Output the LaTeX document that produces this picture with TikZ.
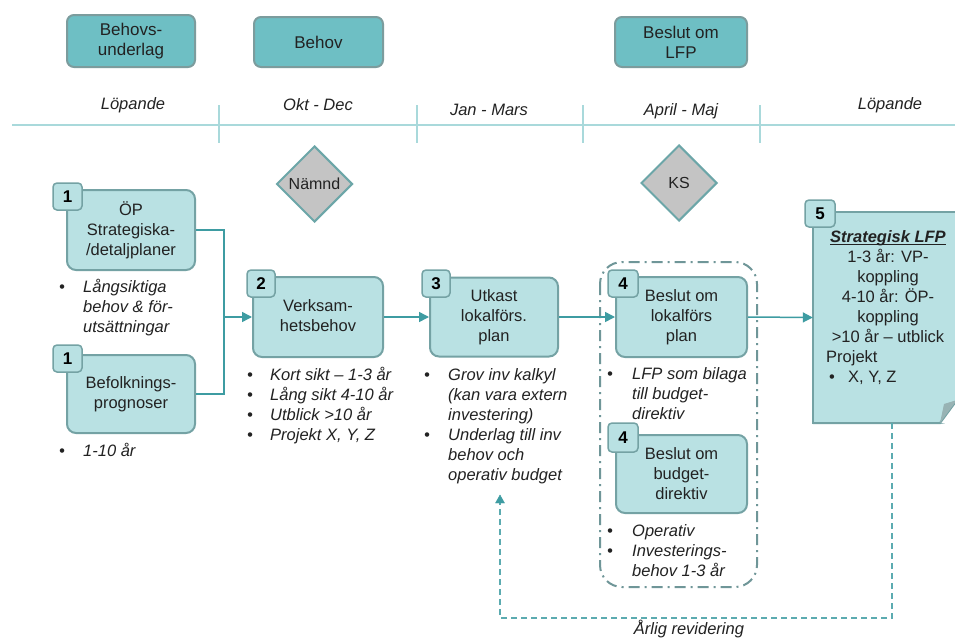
\documentclass[tikz,border=0pt]{standalone}
\usepackage{fontspec}
\setmainfont{Liberation Sans}
\usetikzlibrary{arrows.meta,shapes.geometric}
\definecolor{topfill}{HTML}{6EBFC4}
\definecolor{topdraw}{HTML}{7C9C9D}
\definecolor{boxfill}{HTML}{B9E1E3}
\definecolor{boxdraw}{HTML}{74A2A4}
\definecolor{timeln}{HTML}{A9D9DB}
\definecolor{conncol}{HTML}{3E9CA2}
\definecolor{grpdraw}{HTML}{6F9698}
\definecolor{diafill}{HTML}{C4C4C4}
\definecolor{diadraw}{HTML}{6CA6A8}
\definecolor{txt}{HTML}{222222}
\definecolor{foldcol}{HTML}{98B3B4}
\newcommand\fs{\fontsize{16.5}{20}\selectfont}
\newcommand\myul[1]{\setbox0\hbox{#1}\rlap{\rule[-2.2pt]{\wd0}{0.9pt}}\box0}
\tikzset{
  topbox/.style={draw=topdraw, fill=topfill, line width=2pt, rounded corners=7pt, align=center, inner sep=0pt, text=txt, font=\fontsize{17}{20}\selectfont},
  procbox/.style={draw=boxdraw, fill=boxfill, line width=2pt, rounded corners=9pt, align=center, inner sep=0pt, text=txt, font=\fs},
  badge/.style={draw=boxdraw, fill=boxfill, line width=1.5pt, rounded corners=4pt, minimum width=29pt, minimum height=27pt, inner sep=0pt, text=black, font=\fontsize{17}{20}\selectfont\bfseries},
  period/.style={text=txt, font=\fontsize{16.5}{20}\selectfont\itshape, inner sep=0pt},
  dia/.style={diamond, aspect=1, draw=diadraw, fill=diafill, line width=2pt, minimum size=76pt, inner sep=0pt, text=txt, font=\fontsize{16}{20}\selectfont},
  blist/.style={anchor=north west, inner sep=0pt, text=txt, font=\fs\itshape},
  conn/.style={draw=conncol, line width=1.5pt},
  arr/.style={conn, -{Triangle[length=10pt,width=10pt]}},
  fback/.style={draw=conncol!85!white, line width=1.6pt, dash pattern=on 6pt off 4pt},
  grp/.style={draw=grpdraw, line width=2pt, rounded corners=22pt, dash pattern=on 11pt off 5pt on 2pt off 5pt},
  tick/.style={draw=timeln, line width=1.6pt}
}
\begin{document}
\begin{tikzpicture}[x=1pt,y=-1pt]
\useasboundingbox (0,0) rectangle (955,637);
\clip (0,0) rectangle (955,637);
\fill[white] (0,0) rectangle (955,637);

% top boxes
\node[topbox, minimum width=128pt, minimum height=52pt] (tb1) at (131,41) {Behovs-\\underlag};
\node[topbox, minimum width=129pt, minimum height=50pt] (tb2) at (318.5,42) {Behov};
\node[topbox, minimum width=132pt, minimum height=50pt] (tb3) at (681,42) {Beslut om\\LFP};

% timeline
\coordinate (tlL) at (12,125);
\coordinate (tlR) at (960,125);
\draw[tick, line width=2pt] (tlL) -- (tlR);
\foreach \xx/\nm in {219/ta,417/tb,583/tc,760/td}{
  \coordinate (\nm1) at (\xx,105);
  \coordinate (\nm2) at (\xx,143);
  \draw[tick] (\nm1) -- (\nm2);
}
\node[period] (p1) at (133,105) {Löpande};
\node[period] (p2) at (318,105) {Okt - Dec};
\node[period] (p3) at (489,110) {Jan - Mars};
\node[period] (p4) at (681,111) {April - Maj};
\node[period] (p5) at (890,105) {Löpande};

% diamonds
\node[dia] (namnd) at (314.5,184) {Nämnd};
\node[dia] (ks) at (679,183) {KS};

% group box
\coordinate (gA) at (600,262);
\coordinate (gB) at (757,587);
\draw[grp] (gA) rectangle (gB);

% process boxes
\node[procbox, minimum width=128pt, minimum height=80pt] (op) at (131,230) {ÖP\\Strategiska-\\/detaljplaner};
\node[procbox, minimum width=128pt, minimum height=78pt] (bef) at (131,394) {\raisebox{-4pt}{\begin{tabular}{@{}c@{}}Befolknings-\\prognoser\end{tabular}}};
\node[procbox, minimum width=130pt, minimum height=80pt] (b2) at (318,317) {\raisebox{-4pt}{\begin{tabular}{@{}c@{}}Verksam-\\hetsbehov\end{tabular}}};
\node[procbox, minimum width=128pt, minimum height=79pt] (b3) at (494,317) {Utkast\\lokalförs.\\plan};
\node[procbox, minimum width=131pt, minimum height=80pt] (b4a) at (681.5,317) {Beslut om\\lokalförs\\plan};
\node[procbox, minimum width=131pt, minimum height=78pt] (b4b) at (681.5,474) {Beslut om\\budget-\\direktiv};

% strategic LFP note
\node[minimum width=150pt, minimum height=211pt, inner sep=0pt] (lfp) at (888,317.5) {};
\draw[draw=boxdraw, fill=boxfill, line width=2pt] (lfp.north west) -- (lfp.north east) -- (lfp.south east) -- (lfp.south west) -- cycle;
\coordinate (fA) at (940,423);
\coordinate (fB) at (957,400);
\coordinate (fC) at (944,404);
\fill[white] (fA) -- (fB) -- (960,400) -- (960,426) -- cycle;
\draw[draw=boxdraw, line width=2pt] (lfp.south west) -- (fA) -- (fB);
\fill[foldcol] (fA) -- (fB) .. controls (951,402) .. (fC) -- cycle;

% badges
\node[badge] (n1a) at (67.5,196.5) {1};
\node[badge] (n1b) at (67.5,358.5) {1};
\node[badge, minimum width=28pt] (n2) at (261,283.5) {2};
\node[badge, minimum width=28pt] (n3) at (436,283.5) {3};
\node[badge, minimum width=30pt] (n4a) at (623,283.5) {4};
\node[badge, minimum width=30pt, minimum height=29pt] (n4b) at (623,437.5) {4};
\node[badge, minimum width=30pt] (n5) at (820,213.5) {5};

% LFP text
\node[anchor=north, inner sep=0pt, text=txt, font=\fs, align=center] (lfpt) at (888,228)
 {\begin{tabular}{@{}c@{}}\myul{\textbf{\textit{Strategisk LFP}}}\\1-3 år: VP-\\koppling\\4-10 år: ÖP-\\koppling\\>10 år – utblick\end{tabular}};
\node[anchor=north west, inner sep=0pt, text=txt, font=\fs] (lfpp) at (826,348)
 {\begin{tabular}{@{}p{22pt}@{}l@{}}\multicolumn{2}{@{}l@{}}{Projekt}\\\hspace*{3pt}\textbullet & X, Y, Z\end{tabular}};

% bullet lists
\node[blist] (l1) at (59,278) {\begin{tabular}{@{}p{24pt}@{}l@{}}\textbullet & Långsiktiga\\ & behov \& för-\\ & utsättningar\end{tabular}};
\node[blist] (l2) at (59,442) {\begin{tabular}{@{}p{24pt}@{}l@{}}\textbullet & 1-10 år\end{tabular}};
\node[blist] (l3) at (247,366) {\begin{tabular}{@{}p{23pt}@{}l@{}}\textbullet & Kort sikt – 1-3 år\\\textbullet & Lång sikt 4-10 år\\\textbullet & Utblick >10 år\\\textbullet & Projekt X, Y, Z\end{tabular}};
\node[blist] (l4) at (424,366) {\begin{tabular}{@{}p{24pt}@{}l@{}}\textbullet & Grov inv kalkyl\\ & (kan vara extern\\ & investering)\\\textbullet & Underlag till inv\\ & behov och\\ & operativ budget\end{tabular}};
\node[blist] (l5) at (607,365) {\begin{tabular}{@{}p{25pt}@{}l@{}}\textbullet & LFP som bilaga\\ & till budget-\\ & direktiv\end{tabular}};
\node[blist] (l6) at (607,522) {\begin{tabular}{@{}p{25pt}@{}l@{}}\textbullet & Operativ\\\textbullet & Investerings-\\ & behov 1-3 år\end{tabular}};

% connectors
\coordinate (jn) at (224,317);
\draw[conn] (op.east) -| (jn);
\draw[conn] (bef.east) -| (jn);
\draw[arr] (jn) -- (b2.west);
\draw[arr] (b2.east) -- (b3.west);
\draw[arr] (b3.east) -- (b4a.west);
\draw[arr] (b4a.east) -- (lfp.west);

% feedback loop
\coordinate (fbs) at (892,423);
\coordinate (fbc) at (892,618);
\coordinate (fbe) at (500,495);
\draw[fback] (fbs) -- (fbc) -| (fbe);
\draw[conncol, fill=conncol] (fbe) -- ++(-4.5,8) -- ++(9,0) -- cycle;
\node[period] (rev) at (689,629) {Årlig revidering};
\end{tikzpicture}
\end{document}
